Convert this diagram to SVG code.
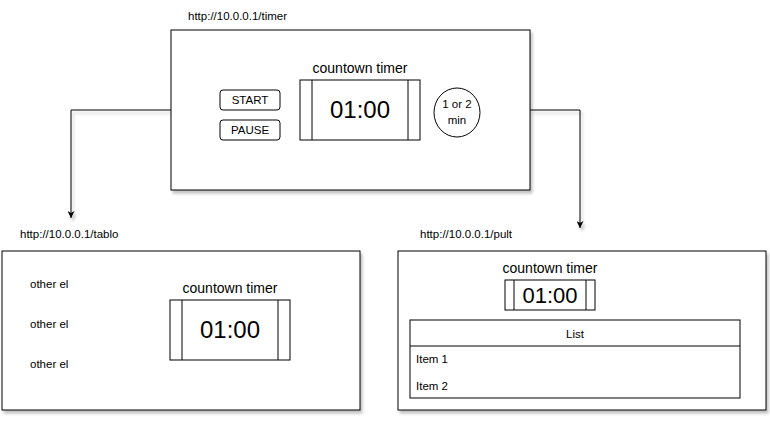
<svg xmlns="http://www.w3.org/2000/svg" width="770" height="422" viewBox="0 0 770 422">
<style>
.box{fill:#fff;stroke:#000;stroke-width:1}
.ln{fill:none;stroke:#000;stroke-width:1}
text{font-family:"Liberation Sans",Arial,Helvetica,sans-serif;fill:#000}
.s11{font-size:11.5px}
.s14{font-size:14px}
.big{font-size:24px}
.mid{text-anchor:middle}
</style>
<defs>
<filter id="sh" x="-10%" y="-10%" width="130%" height="130%">
<feDropShadow dx="2" dy="3" stdDeviation="1.5" flood-color="#000" flood-opacity="0.25"/>
</filter>
<marker id="arr" viewBox="0 0 10 10" refX="10" refY="5" markerWidth="7" markerHeight="7" orient="auto" markerUnits="userSpaceOnUse">
<path d="M0,0 L10,5 L0,10 L3,5 Z" fill="#000"/>
</marker>
</defs>
<g id="connectors" filter="url(#sh)">
<path class="ln" d="M171,110 H71 V218" marker-end="url(#arr)"/>
<path class="ln" d="M530,110 H580 V228" marker-end="url(#arr)"/>
</g>
<g id="timer-page">
<text class="s11" x="188" y="20">http://10.0.0.1/timer</text>
<rect class="box" x="171" y="30" width="359" height="160" filter="url(#sh)"/>
<text class="s14 mid" x="360" y="73">countown timer</text>
<rect class="box" x="300" y="80" width="120" height="60"/>
<line class="ln" x1="312" y1="80" x2="312" y2="140"/>
<line class="ln" x1="408" y1="80" x2="408" y2="140"/>
<text class="big mid" x="360" y="118">01:00</text>
<rect class="box" x="220" y="90" width="60" height="20" rx="3"/>
<text class="s11 mid" x="250" y="104">START</text>
<rect class="box" x="220" y="120" width="60" height="20" rx="3"/>
<text class="s11 mid" x="250" y="134">PAUSE</text>
<ellipse class="box" cx="457" cy="112.5" rx="23" ry="24.5"/>
<text class="s11 mid" x="457" y="108">1 or 2</text>
<text class="s11 mid" x="457" y="124">min</text>
</g>
<g id="tablo-page">
<text class="s11" x="20" y="238">http://10.0.0.1/tablo</text>
<rect class="box" x="2" y="251" width="358" height="159" filter="url(#sh)"/>
<text class="s11" x="30" y="288">other el</text>
<text class="s11" x="30" y="328">other el</text>
<text class="s11" x="30" y="368">other el</text>
<text class="s14 mid" x="230" y="293">countown timer</text>
<rect class="box" x="170" y="300" width="120" height="60"/>
<line class="ln" x1="182" y1="300" x2="182" y2="360"/>
<line class="ln" x1="278" y1="300" x2="278" y2="360"/>
<text class="big mid" x="230" y="338">01:00</text>
</g>
<g id="pult-page">
<text class="s11" x="420" y="238">http://10.0.0.1/pult</text>
<rect class="box" x="398" y="251" width="368" height="159" filter="url(#sh)"/>
<text class="s14 mid" x="550" y="273">countown timer</text>
<rect class="box" x="505" y="280" width="90" height="30"/>
<line class="ln" x1="514" y1="280" x2="514" y2="310"/>
<line class="ln" x1="586" y1="280" x2="586" y2="310"/>
<text class="mid" style="font-size:22px" x="550" y="303">01:00</text>
<rect class="box" x="410" y="320" width="330" height="78"/>
<line class="ln" x1="410" y1="346" x2="740" y2="346"/>
<text class="s11 mid" x="575" y="338">List</text>
<text class="s11" x="416" y="363">Item 1</text>
<text class="s11" x="416" y="390">Item 2</text>
</g>
</svg>
